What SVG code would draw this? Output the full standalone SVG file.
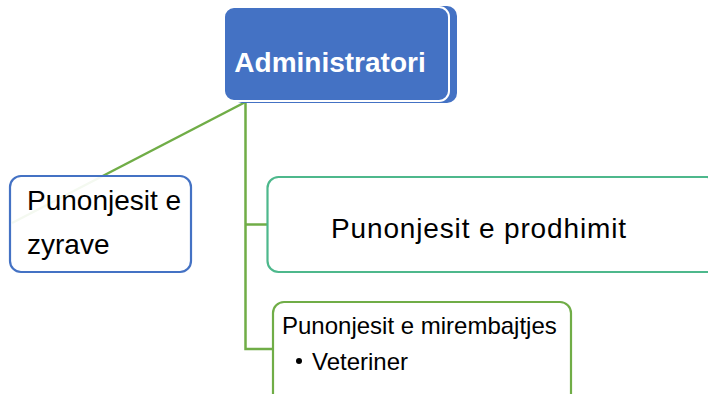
<svg xmlns="http://www.w3.org/2000/svg" width="708" height="394" viewBox="0 0 708 394">
<style>
.t{font-family:"Liberation Sans",Arial,sans-serif;fill:#000}
.c{fill:none;stroke:#70AD47;stroke-width:2.5}
</style>
<rect width="708" height="394" fill="#fff"/>
<g id="connectors">
<line class="c" x1="245.5" y1="102" x2="12" y2="223"/>
<polyline class="c" points="245.5,102 245.5,349 273,349"/>
<line class="c" x1="245.5" y1="224.5" x2="268" y2="224.5"/>
</g>
<g id="administratori">
<rect x="232" y="6" width="225" height="97" rx="10" fill="#4472C4"/>
<rect x="224" y="7" width="225" height="94" rx="10" fill="#4472C4" stroke="#fff" stroke-width="2"/>
<text x="330" y="72" text-anchor="middle" class="t" style="fill:#fff;font-weight:bold;font-size:28px">Administratori</text>
</g>
<g id="zyrave">
<rect x="10" y="176" width="181" height="96" rx="11" fill="#fff" fill-opacity="0.92" stroke="#4472C4" stroke-width="2.2"/>
<text x="27" y="210" class="t" font-size="28">Punonjesit e</text>
<text x="27" y="254" class="t" font-size="28">zyrave</text>
</g>
<g id="prodhimit">
<rect x="267.5" y="177" width="450" height="95" rx="11" fill="#fff" stroke="#4DB88C" stroke-width="2.2"/>
<text x="331" y="238" class="t" font-size="28" textLength="295">Punonjesit e prodhimit</text>
</g>
<g id="mirembajtjes">
<rect x="273" y="302" width="298" height="110" rx="11" fill="#fff" stroke="#70AD47" stroke-width="2.2"/>
<text x="282" y="334" class="t" font-size="24">Punonjesit e mirembajtjes</text>
<circle cx="299" cy="361" r="3" fill="#000"/>
<text x="312" y="370" class="t" font-size="24">Veteriner</text>
</g>
</svg>
